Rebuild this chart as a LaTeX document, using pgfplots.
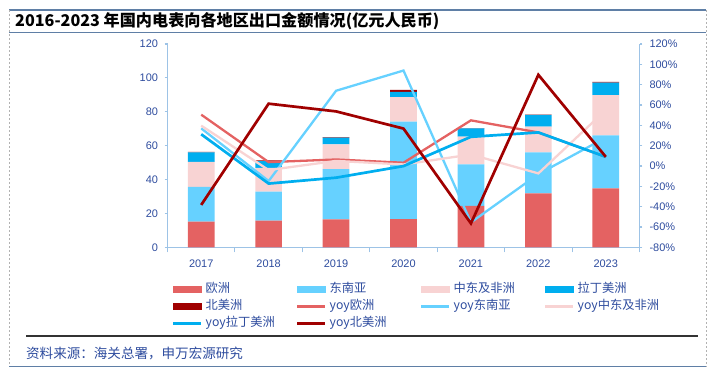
\documentclass[border=0pt]{standalone}
\usepackage{fontspec}
\setmainfont{Liberation Sans}
\newfontfamily\cjk{Noto Sans CJK SC}
\usepackage{pgfplots}
\pgfplotsset{compat=1.18}
\usepackage{pgfplotstable}

\definecolor{eu}{HTML}{E46262}
\definecolor{sea}{HTML}{66D1FF}
\definecolor{me}{HTML}{F8D3D3}
\definecolor{la}{HTML}{00AEEF}
\definecolor{na}{HTML}{A00000}
\definecolor{txt}{HTML}{2E4C9E}
\definecolor{axl}{HTML}{9DC3E6}
\definecolor{frame}{HTML}{5F7FA6}

\pgfplotstableread{
year eu sea me la na
2017 15.1 20.5 14.9 5.6 0.3
2018 15.7 17.1 14.1 4.0 0.4
2019 16.5 29.7 14.5 4.0 0.3
2020 16.7 57.5 14.5 3.0 1.2
2021 24.4 24.6 16.3 4.9 0.2
2022 31.9 24.2 15.1 6.9 0.2
2023 34.8 31.3 23.8 7.3 0.4
}\bars

\pgfplotstableread{
year eu sea me la na
2017 50.5 37.0 39.7 31.2 -38.3
2018 3.8 -14.8 -4.0 -17.3 61.3
2019 6.4 74.0 5.0 -11.5 53.7
2020 3.2 93.9 1.5 -0.1 36.8
2021 44.9 -55.5 11.3 28.7 -56.5
2022 33.0 -8.0 -7.3 33.0 89.7
2023 9.0 28.0 55.0 9.0 9.0
}\yoy

\begin{document}
\begin{tikzpicture}
\begin{scope}[x=1bp,y=1bp]
\path[use as bounding box] (0,0) rectangle (716,-377);
% frame decorations
\draw[frame, line width=1.2bp] (9,-10) -- (706,-10);
\draw[frame, line width=1.2bp] (9,-32.3) -- (706,-32.3);
\draw[gray!60, line width=0.6bp, dash pattern=on 2bp off 2bp] (9,-10) -- (9,-366.7);
\draw[gray!60, line width=0.6bp, dash pattern=on 2bp off 2bp] (706,-10) -- (706,-366.7);
\draw[frame, line width=1.2bp] (9,-366.7) -- (706,-366.7);
\draw[black!80, line width=2bp] (26,-336) -- (698,-336);
\node[anchor=west, inner sep=0pt, font=\cjk\bfseries\fontsize{16.2}{18}\selectfont] at (15,-21.5) {2016-2023 年国内电表向各地区出口金额情况(亿元人民币)};
\node[anchor=west, inner sep=0pt, text=txt, font=\cjk\fontsize{13.6}{16}\selectfont] at (26,-353) {资料来源：海关总署，申万宏源研究};
\end{scope}

\begin{axis}[
  at={(167.5bp,-247.3bp)}, anchor=south west,
  scale only axis, width=472bp, height=203.3bp,
  xmin=2016.5, xmax=2023.5, ymin=0, ymax=120,
  axis x line*=bottom, axis y line*=left,
  axis line style={axl, line width=1.3bp, -},
  xtick={2017,...,2023},
  xticklabels={2017,2018,2019,2020,2021,2022,2023},
  minor xtick={2016.5,2017.5,...,2023.5},
  ytick={0,20,...,120},
  major x tick style={draw=none},
  tick style={axl, line width=1.1bp},
  tick align=outside,
  major tick length=3bp, minor tick length=5bp,
  ticklabel style={text=txt, font=\fontsize{11}{13}\selectfont},
  /pgf/number format/assume math mode=true,
  yticklabel style={xshift=-3bp},
  xticklabel style={yshift=-6bp},
  ybar stacked, bar width=26.7bp,
  clip=false,
]
\addplot[fill=eu, draw=none] table[x=year, y=eu] {\bars};
\addplot[fill=sea, draw=none] table[x=year, y=sea] {\bars};
\addplot[fill=me, draw=none] table[x=year, y=me] {\bars};
\addplot[fill=la, draw=none] table[x=year, y=la] {\bars};
\addplot[fill=na, draw=none] table[x=year, y=na] {\bars};
\end{axis}

\begin{axis}[
  at={(167.5bp,-247.3bp)}, anchor=south west,
  scale only axis, width=472bp, height=203.3bp,
  xmin=2016.5, xmax=2023.5, ymin=-80, ymax=120,
  axis x line=none, axis y line*=right,
  axis line style={axl, line width=1.3bp, -},
  ytick={-80,-60,...,120},
  yticklabel={\pgfmathprintnumber{\tick}\%},
  tick style={axl, line width=1.1bp},
  tick align=outside,
  major tick length=3bp,
  ticklabel style={text=txt, font=\fontsize{11}{13}\selectfont},
  /pgf/number format/assume math mode=true,
  yticklabel style={xshift=3.5bp},
  clip=false,
  legend columns=4,
  legend cell align=left,
  legend image code/.code={\draw[#1, line width=3bp] (0bp,0bp) -- (28bp,0bp);},
  legend style={
    at={(0.0089,-0.1756)}, anchor=north west,
    draw=none, fill=none, inner sep=0pt, outer sep=0pt,
    row sep=5.3bp,
    font=\cjk\fontsize{12.3}{14}\selectfont, text=txt,
    nodes={text width=90bp, inner sep=0pt, text height=9bp, text depth=3bp},
    /tikz/every odd column/.append style={column sep=3bp},
    /tikz/every even column/.append style={column sep=0bp},
  },
]
\addlegendimage{legend image code/.code={\fill[eu] (0bp,-3.2bp) rectangle (28bp,3.2bp);}}
\addlegendentry{欧洲}
\addlegendimage{legend image code/.code={\fill[sea] (0bp,-3.2bp) rectangle (28bp,3.2bp);}}
\addlegendentry{东南亚}
\addlegendimage{legend image code/.code={\fill[me] (0bp,-3.2bp) rectangle (28bp,3.2bp);}}
\addlegendentry{中东及非洲}
\addlegendimage{legend image code/.code={\fill[la] (0bp,-3.2bp) rectangle (28bp,3.2bp);}}
\addlegendentry{拉丁美洲}
\addlegendimage{legend image code/.code={\fill[na] (0bp,-3.2bp) rectangle (28bp,3.2bp);}}
\addlegendentry{北美洲}
\addplot[eu, line width=2.3bp, line join=miter] table[x=year, y=eu] {\yoy};
\addlegendentry{yoy欧洲}
\addplot[sea, line width=2.3bp, line join=miter] table[x=year, y=sea] {\yoy};
\addlegendentry{yoy东南亚}
\addplot[me, line width=2.3bp, line join=miter] table[x=year, y=me] {\yoy};
\addlegendentry{yoy中东及非洲}
\addplot[la, line width=2.7bp, line join=miter] table[x=year, y=la] {\yoy};
\addlegendentry{yoy拉丁美洲}
\addplot[na, line width=2.7bp, line join=miter] table[x=year, y=na] {\yoy};
\addlegendentry{yoy北美洲}
\end{axis}
\end{tikzpicture}
\end{document}
